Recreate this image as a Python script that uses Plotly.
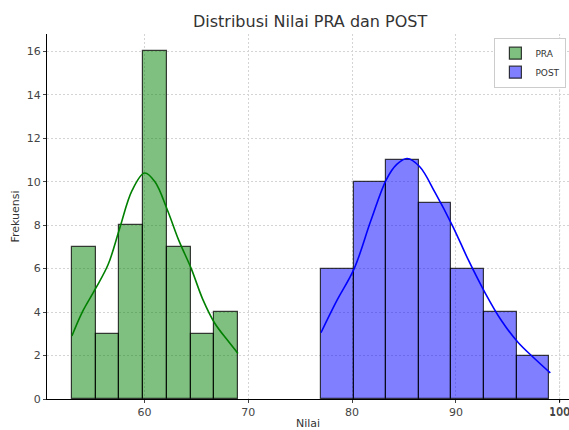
import numpy as np
import plotly.graph_objects as go

# histogram data (7 bins each)
pra_range = [53, 69]
pra_counts = [7, 3, 8, 16, 7, 3, 4]
post_range = [77, 99]
post_counts = [6, 10, 11, 9, 6, 4, 2]

# KDE curves (scaled to counts)
pra_kde_x = [53, 54, 55.3, 56.5, 57.6, 58.8, 60, 61, 62.2, 63.3, 64.5, 65.6, 66.75, 68, 69]
pra_kde_y = [2.9, 4.0, 5.1, 6.2, 7.85, 9.6, 10.4, 10.0, 8.7, 7.3, 6.0, 4.6, 3.5, 2.7, 2.1]
post_kde_x = [77, 78.5, 80.2, 81.8, 83.3, 84.3, 85.3, 86.5, 88, 89.7, 91.2, 92.8, 94.4, 96, 97.5, 99.1]
post_kde_y = [3.05, 4.5, 6.0, 8.2, 10.1, 10.8, 11.07, 10.7, 9.5, 7.95, 6.4, 4.9, 3.6, 2.6, 1.9, 1.2]

x_ticks = [60, 70, 80, 90, 100]


def bin_centers(rng, counts):
    edges = np.linspace(rng[0], rng[1], len(counts) + 1)
    return (edges[:-1] + edges[1:]) / 2, edges[1] - edges[0]


fig = go.Figure()

for name, rng, counts, fill in [
    ("PRA", pra_range, pra_counts, "rgba(0,128,0,0.5)"),
    ("POST", post_range, post_counts, "rgba(0,0,255,0.5)"),
]:
    centers, w = bin_centers(rng, counts)
    fig.add_trace(go.Bar(
        x=centers, y=counts, width=w, name=name,
        marker=dict(color=fill, line=dict(color="rgba(0,0,0,0.75)", width=1.2)),
    ))

fig.add_trace(go.Scatter(x=pra_kde_x, y=pra_kde_y, mode="lines", showlegend=False,
                         line=dict(color="green", width=1.6, shape="spline")))
fig.add_trace(go.Scatter(x=post_kde_x, y=post_kde_y, mode="lines", showlegend=False,
                         line=dict(color="blue", width=1.6, shape="spline")))

fig.update_layout(
    width=569, height=430,
    margin=dict(l=47, r=0, t=34, b=31),
    paper_bgcolor="white", plot_bgcolor="white",
    font=dict(family="DejaVu Sans", size=11, color="#333333"),
    title=dict(text="Distribusi Nilai PRA dan POST", x=0.545, xanchor="center",
               y=0.95, yanchor="middle", font=dict(size=16, color="#333333")),
    bargap=0, barmode="overlay",
    legend=dict(x=0.995, y=0.99, xanchor="right", yanchor="top",
                bgcolor="white", bordercolor="#cccccc", borderwidth=1,
                font=dict(size=9), tracegroupgap=0, itemwidth=30),
)
fig.update_xaxes(
    title=dict(text="Nilai", standoff=2, font=dict(size=11)),
    range=[50.6, 100.9], tickvals=x_ticks, automargin=False,
    ticklabeloverflow="allow", tickfont=dict(size=11, color="#444444"),
    showgrid=True, gridcolor="#d4d4d4", griddash="2px,2px", gridwidth=0.8,
    showline=True, linecolor="black", linewidth=1, ticks="outside", ticklen=3,
    zeroline=False,
)
fig.update_yaxes(
    title=dict(text="Frekuensi", standoff=4, font=dict(size=11)),
    range=[0, 16.8], tickmode="linear", tick0=0, dtick=2, automargin=False,
    tickfont=dict(size=11, color="#444444"),
    showgrid=True, gridcolor="#d4d4d4", griddash="2px,2px", gridwidth=0.8,
    showline=True, linecolor="black", linewidth=1, ticks="outside", ticklen=3,
    zeroline=False,
)

# the last tick sits near the right edge and gets dropped, so draw it explicitly
last = x_ticks[-1]
fig.add_shape(type="line", xref="x", yref="paper", x0=last, x1=last, y0=0, y1=1,
              layer="below", line=dict(color="#d4d4d4", width=0.8, dash="2px,2px"))
fig.add_shape(type="line", xref="x", yref="paper", x0=last, x1=last, y0=0, y1=-0.009,
              line=dict(color="black", width=1))
fig.add_annotation(x=last, y=0, xref="x", yref="paper", text=str(last), showarrow=False,
                   yanchor="top", yshift=-4, font=dict(size=11, color="#444444"))

fig.write_html("out.html", config={"displayModeBar": False},
               post_script="document.body.style.margin='0';document.body.style.overflow='hidden';")
